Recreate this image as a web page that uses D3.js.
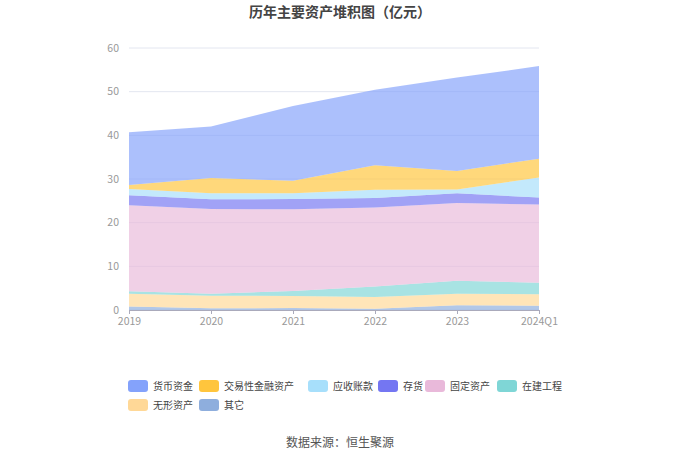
<!DOCTYPE html>
<html>
<head>
<meta charset="utf-8">
<script src="https://cdn.jsdelivr.net/npm/d3@7"></script>
<style>
  body { margin: 0; background: #fff; }
  text { font-family: "Noto Sans CJK SC", "Noto Sans", sans-serif; }
</style>
</head>
<body>
<div id="chart"></div>
<script>
// periods on the x axis
var years = ["2019", "2020", "2021", "2022", "2023", "2024Q1"];

// series values (亿元)
var huobi    = [12.1, 11.8, 17.1, 17.3, 21.4, 21.2];  // 货币资金
var jiaoyi   = [0.9, 3.5, 2.9, 5.6, 4.2, 4.3];        // 交易性金融资产
var yingshou = [1.4, 1.4, 1.3, 1.9, 0.9, 4.6];        // 应收账款
var cunhuo   = [2.3, 2.2, 2.35, 2.2, 2.2, 1.6];       // 存货
var guding   = [19.7, 19.4, 18.7, 18.1, 17.8, 17.9];  // 固定资产
var zaijian  = [0.6, 0.46, 1.15, 2.36, 2.98, 2.66];   // 在建工程
var wuxing   = [2.9, 2.9, 2.75, 2.7, 2.67, 2.6];      // 无形资产
var qita     = [0.8, 0.38, 0.46, 0.3, 1.07, 1.0];     // 其它

var yTicks = [0, 10, 20, 30, 40, 50, 60];

var names  = ["货币资金", "交易性金融资产", "应收账款", "存货", "固定资产", "在建工程", "无形资产", "其它"];
var values = [huobi, jiaoyi, yingshou, cunhuo, guding, zaijian, wuxing, qita];
var colors = ["#84a2fb", "#ffc53d", "#a7dffb", "#7476f2", "#e9b9da", "#7fd6d6", "#ffd897", "#8eaedd"];

var W = 680, H = 460;
var margin = {left: 129, right: 141, top: 48, bottom: 150};

var svg = d3.select("#chart").append("svg")
    .attr("width", W).attr("height", H);

svg.append("text")
    .attr("x", W / 2).attr("y", 17)
    .attr("text-anchor", "middle")
    .style("font-size", "14px").style("font-weight", "bold").style("fill", "#444")
    .text("历年主要资产堆积图（亿元）");

var x = d3.scalePoint().domain(years).range([margin.left, W - margin.right]);
var y = d3.scaleLinear().domain([0, 60]).range([H - margin.bottom, margin.top]);

// grid
svg.append("g").selectAll("line").data(yTicks).enter().append("line")
    .attr("x1", margin.left).attr("x2", W - margin.right)
    .attr("y1", d => y(d)).attr("y2", d => y(d))
    .attr("stroke", "#e3e6f0").attr("stroke-width", 1);

// build rows for the stack, bottom series first
var rows = years.map((yr, i) => {
    var r = {year: yr};
    names.forEach((n, k) => { r[n] = values[k][i]; });
    return r;
});
var order = names.slice().reverse();
var stack = d3.stack().keys(order);
var layers = stack(rows);

var area = d3.area()
    .x(d => x(d.data.year))
    .y0(d => y(d[0]))
    .y1(d => y(d[1]));

svg.append("g").selectAll("path").data(layers).enter().append("path")
    .attr("d", area)
    .attr("fill", d => colors[names.indexOf(d.key)])
    .attr("fill-opacity", 0.68);

// y labels
svg.append("g").selectAll("text").data(yTicks).enter().append("text")
    .attr("x", margin.left - 10).attr("y", d => y(d) + 3.5)
    .attr("text-anchor", "end")
    .style("font-size", "10.5px").style("fill", "#999")
    .text(d => d);

// x axis
var xAxis = svg.append("g")
    .attr("transform", "translate(0," + y(0) + ")")
    .call(d3.axisBottom(x).tickSize(4));
xAxis.select(".domain").attr("stroke", "#aab");
xAxis.selectAll("line").attr("stroke", "#aab");
xAxis.selectAll("text")
    .style("font-size", "10.5px").style("fill", "#999")
    .style("font-family", "'Noto Sans CJK SC', sans-serif")
    .attr("y", 8)
    .attr("dy", "0.71em");

// legend
var legendPos = [[128, 386], [199, 386], [308, 386], [378, 386], [425, 386], [497, 386], [128, 405], [199, 405]];
var leg = svg.append("g").selectAll("g").data(names).enter().append("g")
    .attr("transform", (d, i) => "translate(" + legendPos[i][0] + "," + legendPos[i][1] + ")");
leg.append("rect")
    .attr("x", 0).attr("y", -6).attr("width", 20).attr("height", 12).attr("rx", 3)
    .attr("fill", (d, i) => colors[i]);
leg.append("text")
    .attr("x", 25).attr("y", 3.5)
    .style("font-size", "10px").style("fill", "#444")
    .text(d => d);

svg.append("text")
    .attr("x", W / 2).attr("y", 447)
    .attr("text-anchor", "middle")
    .style("font-size", "12px").style("fill", "#555")
    .text("数据来源：恒生聚源");
</script>
</body>
</html>
